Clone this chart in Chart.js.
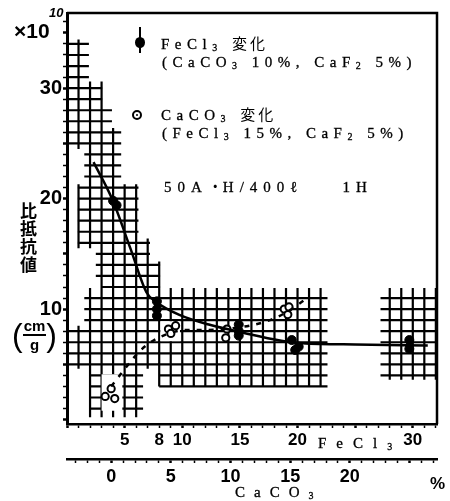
<!DOCTYPE html>
<html><head><meta charset="utf-8">
<script src="https://cdn.jsdelivr.net/npm/chart.js@4"></script>
<style>
html,body{margin:0;padding:0;background:#fff;}
#wrap{position:relative;width:450px;height:501px;overflow:hidden;}
canvas{position:absolute;left:0;top:0;}
.t{position:absolute;font-family:"Liberation Serif",serif;color:#000;white-space:nowrap;line-height:1;font-size:15px;letter-spacing:5.5px;-webkit-text-stroke:0.3px #000;}
.t sub{font-size:10px;vertical-align:-2px;letter-spacing:5.5px;}
.jp{font-family:"Noto Sans CJK JP",sans-serif;letter-spacing:3px;-webkit-text-stroke:0;}
.b{position:absolute;font-family:"Liberation Sans",sans-serif;font-weight:bold;color:#000;white-space:nowrap;line-height:1;}
</style></head><body>
<div id="wrap"><canvas id="c" width="450" height="501"></canvas>
<div class="b" style="left:14px;top:20px;font-size:21px;">×10</div>
<div class="b" style="left:49px;top:6px;font-size:13px;font-style:italic;">10</div>
<div class="b" style="left:20px;top:202px;font-size:17px;writing-mode:vertical-rl;letter-spacing:1px;font-family:'Noto Sans CJK JP',sans-serif;">比抵抗値</div>
<div class="b" style="left:12px;top:318px;display:flex;align-items:center;font-size:15px;">
  <span style="font-size:32px;font-weight:normal;">(</span>
  <span style="display:inline-flex;flex-direction:column;align-items:center;"><span style="border-bottom:2px solid #000;padding:0 1px 1px;">cm</span><span style="padding-top:1px;">g</span></span>
  <span style="font-size:32px;font-weight:normal;">)</span>
</div>
<div style="position:absolute;left:139px;top:27px;width:1.5px;height:26px;background:#000;"></div>
<div style="position:absolute;left:135px;top:37px;width:10px;height:11px;border-radius:50%;background:#000;"></div>
<div style="position:absolute;left:132px;top:110px;width:6px;height:6px;border:2px solid #000;border-radius:50%;"></div>
<div style="position:absolute;left:136px;top:114px;width:2px;height:2px;background:#000;border-radius:50%;"></div>
<div class="t" style="left:161px;top:35px;">FeCl<sub>3</sub> <span class="jp">変化</span></div>
<div class="t" style="left:162px;top:55px;">(CaCO<sub>3</sub> 10%, CaF<sub>2</sub> 5%)</div>
<div class="t" style="left:161px;top:106px;">CaCO<sub>3</sub> <span class="jp">変化</span></div>
<div class="t" style="left:162px;top:126px;">(FeCl<sub>3</sub> 15%, CaF<sub>2</sub> 5%)</div>
<div class="t" style="left:164px;top:178px;letter-spacing:6px;">50A<span class="jp" style="letter-spacing:0">・</span>H/400ℓ&nbsp;&nbsp;&nbsp;&nbsp;1H</div>
<div class="t" style="left:318px;top:436px;letter-spacing:10px;">FeCl<sub style="letter-spacing:0">3</sub></div>
<div class="t" style="left:235px;top:485px;letter-spacing:9px;">CaCO<sub style="letter-spacing:0">3</sub></div>
<div class="b" style="left:430px;top:475px;font-size:17px;">%</div>
</div>
<script>
// ---- data ----
// FeCl3 series (x: FeCl3 %, y: specific resistance ×10^10)
const feX = [4.0, 4.3, 7.8, 7.8, 7.8, 14.9, 14.9, 14.9, 19.5, 19.8, 20.1, 29.7, 29.7];
const feY = [19.8, 19.4, 10.7, 10.0, 9.4, 8.6, 8.0, 7.6, 7.2, 6.3, 6.6, 7.2, 6.4];
// CaCO3 series (x: CaCO3 %)
const caX = [0.0, -0.5, 0.3, 4.8, 5.4, 5.0, 9.7, 9.6, 14.5, 14.9, 14.8];
const caY = [2.8, 2.1, 1.9, 8.2, 8.5, 7.8, 8.2, 7.4, 10.0, 10.2, 9.5];
// fitted curves
const fitX = [2.3, 3.9, 5.5, 6.9, 7.8, 9.7, 12.3, 14.7, 20.4, 25.0, 31.3];
const fitY = [23.3, 20.0, 15.5, 11.5, 10.6, 9.5, 8.6, 8.0, 6.9, 6.8, 6.7];
const dashX = [0.0, 1.3, 2.4, 3.6, 6.3, 7.2, 12.4, 14.5, 16.3];
const dashY = [3.0, 4.8, 6.2, 7.2, 8.1, 8.1, 8.7, 9.6, 10.9];
// tick labels
const yTickLabels = [10, 20, 30];
const feTickLabels = [5, 8, 10, 15, 20, 30];
const caTickLabels = [0, 5, 10, 15, 20];
// background hatching regions (FeCl3 %, value units)
const hatchX0 = [0, 1.5, 2.5, 2.5, 0.9, 2.5, 3.0, 1.5, 0, 8, 2, 27.2];
const hatchX1 = [1.9, 3.1, 3.9, 4.7, 6.2, 7.2, 8.1, 22.6, 22.6, 22.6, 6.6, 32.1];
const hatchY0 = [24.5, 19.5, 17.5, 16.5, 15.5, 12.5, 11.5, 8.5, 4.6, 3.0, 0.2, 3.6];
const hatchY1 = [34.4, 30.6, 28.5, 26.4, 21.3, 16.4, 14.3, 11.9, 8.5, 4.6, 4.6, 11.9];
const cutX0 = [3.0, 8.1];
const cutX1 = [4.8, 9.8];
const cutY0 = [0.8, 7.1];
const cutY1 = [4.1, 8.9];

const pts = (xs, ys) => xs.map((v, i) => ({x: v, y: ys[i]}));
const intTicks = (s) => {
  const out = [];
  for (let v = Math.ceil(s.min); v <= Math.floor(s.max); v++) out.push({value: v});
  s.ticks = out;
};

const hatchPlugin = {
  id: 'hatch',
  beforeDatasetsDraw(chart) {
    const {ctx, chartArea: a} = chart;
    const x = chart.scales.x, y = chart.scales.y;
    ctx.save();
    ctx.beginPath(); ctx.rect(a.left, a.top, a.right - a.left, a.bottom - a.top); ctx.clip();
    ctx.strokeStyle = '#000'; ctx.lineWidth = 2.2;
    ctx.beginPath();
    for (let i = 0; i < hatchX0.length; i++) {
      const x0 = hatchX0[i], x1 = hatchX1[i], y0 = hatchY0[i], y1 = hatchY1[i];
      for (let gx = Math.ceil(x0); gx <= x1; gx++) {
        const px = x.getPixelForValue(gx);
        ctx.moveTo(px, y.getPixelForValue(y0)); ctx.lineTo(px, y.getPixelForValue(y1));
      }
      for (let gy = Math.ceil(y0); gy <= y1; gy++) {
        const py = y.getPixelForValue(gy);
        ctx.moveTo(x.getPixelForValue(x0), py); ctx.lineTo(x.getPixelForValue(x1), py);
      }
    }
    ctx.stroke();
    ctx.fillStyle = '#fff';
    for (let i = 0; i < cutX0.length; i++) {
      const l = x.getPixelForValue(cutX0[i]), r = x.getPixelForValue(cutX1[i]);
      const t = y.getPixelForValue(cutY1[i]), b = y.getPixelForValue(cutY0[i]);
      ctx.fillRect(l, t, r - l, b - t);
    }
    ctx.restore();
  },
  afterDraw(chart) {
    const {ctx, chartArea: a} = chart;
    ctx.save();
    ctx.strokeStyle = '#000'; ctx.lineWidth = 2.5;
    ctx.beginPath();
    ctx.moveTo(a.left, a.top); ctx.lineTo(a.right, a.top); ctx.lineTo(a.right, a.bottom);
    ctx.stroke();
    ctx.restore();
  }
};

const tickFont = {family: 'Liberation Sans', weight: 'bold', size: 17};
const tw = (ctx) => (ctx.tick && ctx.tick.value % 5 === 0 ? 2.5 : 1.5);

new Chart(document.getElementById('c'), {
  type: 'scatter',
  data: {datasets: [
    {label: 'fit', type: 'line', data: pts(fitX, fitY), xAxisID: 'x', yAxisID: 'y',
     borderColor: '#000', borderWidth: 2.5, pointRadius: 0, cubicInterpolationMode: 'monotone', fill: false},
    {label: 'dash', type: 'line', data: pts(dashX, dashY), xAxisID: 'x2', yAxisID: 'y',
     borderColor: '#000', borderWidth: 2.5, borderDash: [5, 7], pointRadius: 0, cubicInterpolationMode: 'monotone', fill: false},
    {label: 'FeCl3 変化', data: pts(feX, feY), xAxisID: 'x', yAxisID: 'y',
     pointRadius: 4.5, backgroundColor: '#000', borderColor: '#000', borderWidth: 1},
    {label: 'CaCO3 変化', data: pts(caX, caY), xAxisID: 'x2', yAxisID: 'y',
     pointRadius: 3.6, backgroundColor: '#fff', borderColor: '#000', borderWidth: 2}
  ]},
  options: {
    responsive: false, animation: false, devicePixelRatio: 1,
    layout: {padding: {top: 7, right: 13, left: 0, bottom: 0}},
    plugins: {legend: {display: false}, tooltip: {enabled: false}},
    scales: {
      x: {type: 'linear', position: 'bottom', min: 0, max: 32.1,
        afterFit(s) { s.height = 35; }, afterBuildTicks: intTicks,
        border: {display: true, color: '#000', width: 2.5},
        grid: {drawOnChartArea: false, drawTicks: true, tickLength: 4, tickColor: '#000', tickWidth: tw},
        ticks: {autoSkip: false, maxRotation: 0, color: '#000', font: tickFont, padding: 2,
          callback: (v) => (feTickLabels.includes(v) ? String(v) : '')}},
      x2: {type: 'linear', position: 'bottom', min: -3.7, max: 27.3,
        afterFit(s) { s.height = 42; }, afterBuildTicks: intTicks,
        border: {display: true, color: '#000', width: 2.5},
        grid: {drawOnChartArea: false, drawTicks: true, tickLength: 4, tickColor: '#000', tickWidth: tw},
        ticks: {autoSkip: false, maxRotation: 0, color: '#000',
          font: {family: 'Liberation Sans', weight: 'bold', size: 18}, padding: 3,
          callback: (v) => (caTickLabels.includes(v) ? String(v) : '')}},
      y: {type: 'linear', position: 'left', min: -0.4, max: 36.8,
        afterFit(s) { s.width = 67; }, afterBuildTicks: intTicks,
        border: {display: true, color: '#000', width: 3},
        grid: {drawOnChartArea: false, drawTicks: true, tickLength: 4, tickColor: '#000', tickWidth: tw},
        ticks: {autoSkip: false, color: '#000',
          font: {family: 'Liberation Sans', weight: 'bold', size: 20}, padding: 1,
          callback: (v) => (yTickLabels.includes(v) ? String(v) : '')}}
    }
  },
  plugins: [hatchPlugin]
});
</script>
</body></html>
